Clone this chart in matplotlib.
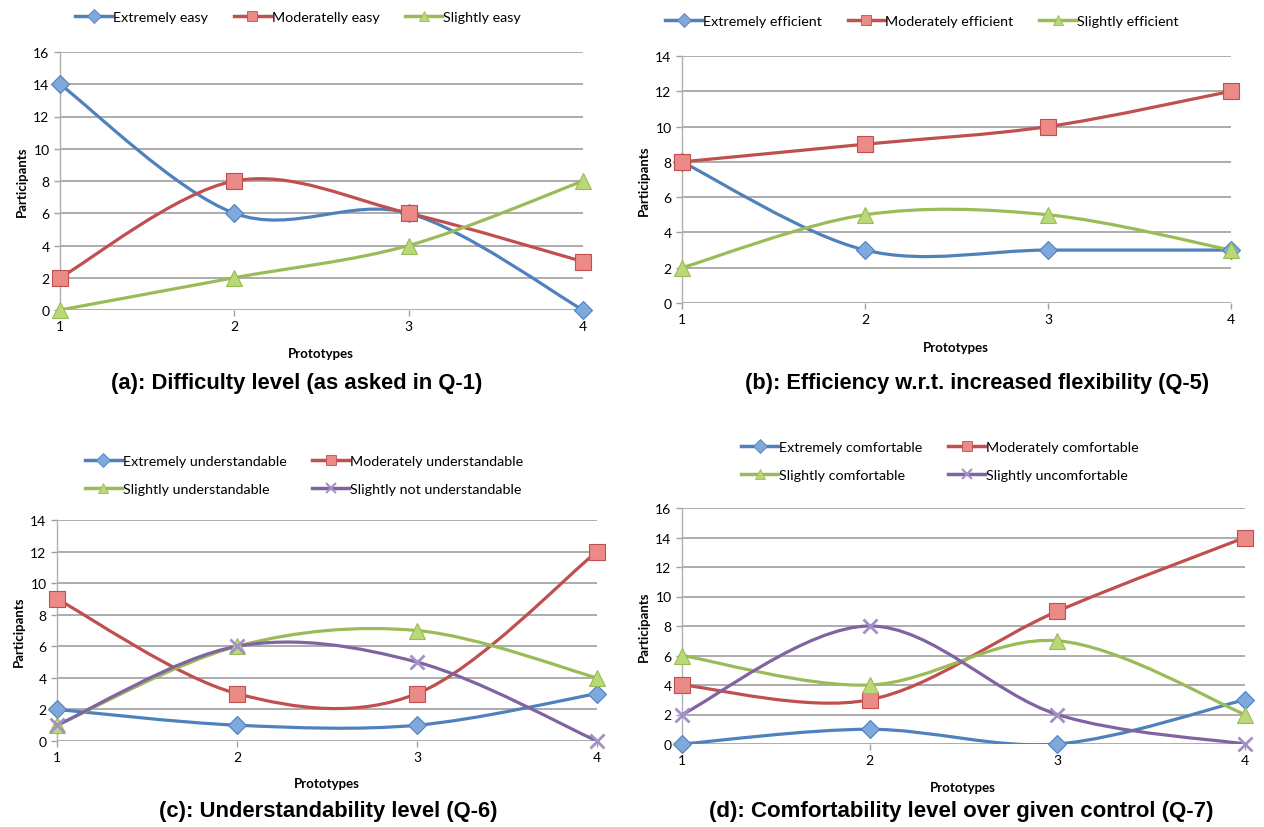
import numpy as np
import matplotlib.pyplot as plt
from matplotlib.path import Path
from matplotlib.patches import PathPatch
from matplotlib.lines import Line2D

# datos
prototipos = [1, 2, 3, 4]

a_series = ["Extremely easy", "Moderatelly easy", "Slightly easy"]
a_vals = [[14, 6, 6, 0], [2, 8, 6, 3], [0, 2, 4, 8]]

b_series = ["Extremely efficient", "Moderately efficient", "Slightly efficient"]
b_vals = [[8, 3, 3, 3], [8, 9, 10, 12], [2, 5, 5, 3]]

c_series = ["Extremely understandable", "Moderately understandable",
            "Slightly understandable", "Slightly not understandable"]
c_vals = [[2, 1, 1, 3], [9, 3, 3, 12], [1, 6, 7, 4], [1, 6, 5, 0]]

d_series = ["Extremely comfortable", "Moderately comfortable",
            "Slightly comfortable", "Slightly uncomfortable"]
d_vals = [[0, 1, 0, 3], [4, 3, 9, 14], [6, 4, 7, 2], [2, 8, 2, 0]]

titulos = ["(a): Difficulty level (as asked in Q-1)",
           "(b): Efficiency w.r.t. increased flexibility (Q-5)",
           "(c): Understandability level (Q-6)",
           "(d): Comfortability level over given control (Q-7)"]

# estilo tipo Excel 2007
colores = ["#4F81BD", "#C0504D", "#9BBB59", "#8064A2"]
rellenos = ["#7FA8DC", "#EC8A87", "#B9D877", "#A58FC7"]
marcadores = ["D", "s", "^", "x"]
tam_marc = [9, 11, 12, 10]
fuente = "Lato"
W, H = 1264, 828


def curva_suave(x, y, t=1/6):
    # curva tipo "smoothed line" de Excel (bezier, catmull-rom)
    pts = np.column_stack([x, y]).astype(float)
    n = len(pts)
    verts = [pts[0]]
    codes = [Path.MOVETO]
    for i in range(n - 1):
        p0 = pts[i - 1] if i > 0 else pts[i]
        p1 = pts[i]
        p2 = pts[i + 1]
        p3 = pts[i + 2] if i + 2 < n else pts[i + 1]
        c1 = p1 + (p2 - p0) * t
        c2 = p2 - (p3 - p1) * t
        verts += [c1, c2, p2]
        codes += [Path.CURVE4] * 3
    return Path(verts, codes)


def ejes(px_left, px_top, px_right, px_bottom):
    return fig.add_axes([px_left / W, 1 - px_bottom / H,
                         (px_right - px_left) / W, (px_bottom - px_top) / H])


def panel(ax, nombres, valores, ymax, titulo, tit_size, leg_xy, leg_cols,
          xlab_xy, tit_xy):
    for k, (nom, v) in enumerate(zip(nombres, valores)):
        ax.add_patch(PathPatch(curva_suave(prototipos, v), fill=False,
                               edgecolor=colores[k], lw=2.3, zorder=3))
        if marcadores[k] == "x":
            ax.plot(prototipos, v, ls="none", marker="x", ms=tam_marc[k],
                    mec=rellenos[k], mew=2, zorder=4, clip_on=False)
        else:
            ax.plot(prototipos, v, ls="none", marker=marcadores[k], ms=tam_marc[k],
                    mfc=rellenos[k], mec=colores[k], mew=0.8, zorder=4, clip_on=False)
    ax.set_xlim(1, 4)
    ax.set_ylim(0, ymax)
    ax.set_xticks(prototipos)
    ax.set_yticks(range(0, ymax + 1, 2))
    ax.grid(axis="y", color="#A6A6A6", lw=1.3)
    ax.set_axisbelow(True)
    for s in ["top", "right", "bottom"]:
        ax.spines[s].set_visible(False)
    ax.spines["left"].set_color("#B0B0B0")
    ax.spines["left"].set_linewidth(1)
    ax.tick_params(axis="both", colors="#A0A0A0", labelcolor="black",
                   labelsize=10, length=4, width=1)
    ax.tick_params(axis="x", pad=3)
    for lab in ax.get_xticklabels() + ax.get_yticklabels():
        lab.set_family(fuente)
    ax.set_ylabel("Participants", fontsize=9.5, fontweight="bold", family=fuente, labelpad=4)
    fig.text(xlab_xy[0] / W, 1 - xlab_xy[1] / H, "Prototypes", ha="center", va="center",
             fontsize=9.5, fontweight="bold", family=fuente)
    fig.text(tit_xy[0] / W, 1 - tit_xy[1] / H, titulo, ha="center", va="center",
             fontsize=tit_size, fontweight="bold", family="Liberation Sans")
    handles = []
    for k in range(len(nombres)):
        if marcadores[k] == "x":
            h = Line2D([], [], color=colores[k], lw=2.5, marker="x", ms=7,
                       mec=rellenos[k], mew=1.5)
        else:
            h = Line2D([], [], color=colores[k], lw=2.5, marker=marcadores[k], ms=7,
                       mfc=rellenos[k], mec=colores[k], mew=0.6)
        handles.append(h)
    etiquetas = list(nombres)
    if leg_cols == 2:
        # orden por filas como en Excel
        orden = [0, 2, 1, 3]
        handles = [handles[i] for i in orden]
        etiquetas = [etiquetas[i] for i in orden]
    fig.legend(handles, etiquetas, loc="center",
               bbox_to_anchor=(leg_xy[0] / W, 1 - leg_xy[1] / H),
               ncol=leg_cols, frameon=False, handlelength=2.6, handletextpad=0.05,
               columnspacing=1.8, labelspacing=1.1,
               prop={"family": fuente, "size": 10.3})


fig = plt.figure(figsize=(W / 100, H / 100), dpi=100)

ax_a = ejes(60, 53, 583, 311)
panel(ax_a, a_series, a_vals, 16, titulos[0], 15.8, (298, 18), 3, (321, 354), (297, 383))

ax_b = ejes(682, 57, 1231, 304)
panel(ax_b, b_series, b_vals, 14, titulos[1], 15.7, (922, 22), 3, (956, 348), (977, 383))

ax_c = ejes(57, 521, 597, 742)
panel(ax_c, c_series, c_vals, 14, titulos[2], 15.8, (304, 476), 2, (327, 784), (328, 812))

ax_d = ejes(682, 509, 1245, 745)
panel(ax_d, d_series, d_vals, 16, titulos[3], 16.0, (940, 462), 2, (963, 788), (961, 812))

fig.savefig("out.png", dpi=100)
